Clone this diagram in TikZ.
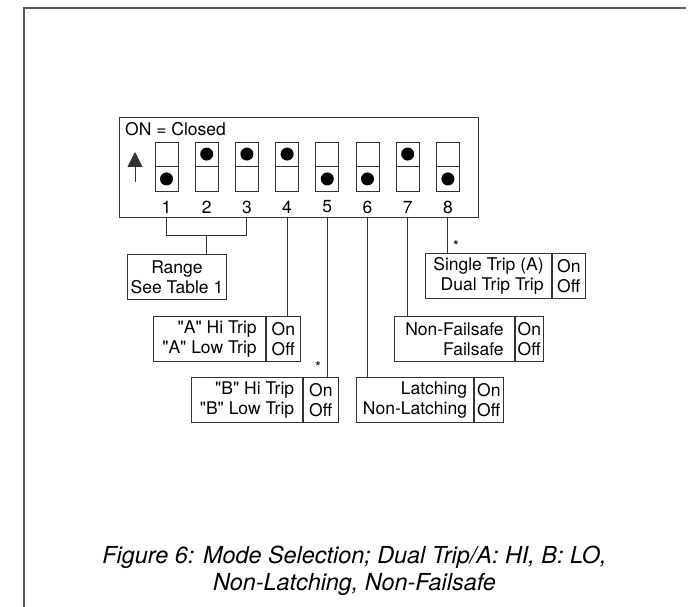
\documentclass[tikz,border=0pt]{standalone}
\usepackage{fontspec}
\setmainfont{TeX Gyre Heros}
\usetikzlibrary{arrows.meta, positioning, calc}

\tikzset{
  ln/.style={draw=black!80, line width=0.9pt},
  lbl/.style={font=\fontsize{17.5}{20}\selectfont, inner sep=0pt},
  lcol/.style={ln, lbl, align=right, minimum height=45pt, anchor=north west},
  rcol/.style={ln, lbl, align=left, minimum height=45pt, anchor=north west},
  star/.style={font=\fontsize{15}{15}\selectfont, inner sep=0pt},
}
\newcommand{\qq}{\textquotedbl}

\begin{document}
\begin{tikzpicture}[x=1pt, y=-1pt]
    \useasboundingbox (0,0) rectangle (697,607);

    % Page frame
    \draw[line width=2pt, black!65] (686,8) -- (24,8) -- (24,607);

    % DIP switch housing
    \node[ln, minimum width=359pt, minimum height=100pt, anchor=north west, inner sep=0pt] (dip) at (119,117) {};
    \node[lbl, anchor=base west] (onclosed) at (125,136) {ON = Closed};
    \draw[ln, fill=black, -{Triangle[width=15pt, length=15pt]}] (135,182) -- (135,152);

    % Switches, 1 = dot up
    \foreach \i/\up in {1/0, 2/1, 3/1, 4/1, 5/0, 6/0, 7/1, 8/0} {
        \node[ln, minimum width=23pt, minimum height=49pt, inner sep=0pt] (sw\i) at ({166.5+40.2*(\i-1)},166.5) {};
        \draw[ln] (sw\i.west) -- (sw\i.east);
        \ifnum\up=1
            \fill ($(sw\i.north)+(0,12.5)$) circle (6.5);
        \else
            \fill ($(sw\i.south)+(0,-12.5)$) circle (6.5);
        \fi
        \node[lbl] (num\i) at ({166.5+40.2*(\i-1)},207) {\i};
    }

    % Setting boxes
    \node[ln, lbl, align=center, minimum width=99pt, minimum height=45pt, anchor=north west] (range) at (127,254) {Range\\See Table 1};

    \node[lcol, minimum width=112pt] (aL) at (153,316) {\qq A\qq{} Hi Trip\\\qq A\qq{} Low Trip};
    \node[rcol, minimum width=34pt] (aR) at (aL.north east) {On\\Off};

    \node[lcol, minimum width=111pt] (bL) at (191,377) {\qq B\qq{} Hi Trip\\\qq B\qq{} Low Trip};
    \node[rcol, minimum width=35pt] (bR) at (bL.north east) {On\\Off};

    \node[lcol, minimum width=117pt] (latL) at (356,377) {Latching\\Non-Latching};
    \node[rcol, minimum width=29pt] (latR) at (latL.north east) {On\\Off};

    \node[lcol, minimum width=120pt] (fsL) at (394,316) {Non-Failsafe\\Failsafe};
    \node[rcol, minimum width=28pt] (fsR) at (fsL.north east) {On\\Off};

    \node[lcol, minimum width=126pt] (tripL) at (425,253) {Single Trip (A)\\Dual Trip Trip};
    \node[rcol, minimum width=33pt] (tripR) at (tripL.north east) {On\\Off};

    % Connectors
    \coordinate (brk) at ($(sw2 |- dip.south)+(0,18)$);
    \draw[ln] (sw1 |- dip.south) |- (brk) -| (sw3 |- dip.south);
    \draw[ln] (brk) -- (range.north -| brk);
    \draw[ln] (sw4 |- dip.south) -- (aR.north -| sw4);
    \draw[ln] (sw5 |- dip.south) -- (bR.north -| sw5);
    \draw[ln] (sw6 |- dip.south) -- (latL.north -| sw6);
    \draw[ln] (sw7 |- dip.south) -- (fsL.north -| sw7);
    \draw[ln] (sw8 |- dip.south) -- (tripL.north -| sw8);
    \node[star] (ast5) at (318,367) {*};
    \node[star] (ast8) at (456,246) {*};

    % Caption
    \node[font=\fontsize{23.4}{27}\selectfont\itshape, align=center] (caption) at (354.5,571) {Figure 6: Mode Selection; Dual Trip/A: HI, B: LO,\\Non-Latching, Non-Failsafe};
\end{tikzpicture}
\end{document}
